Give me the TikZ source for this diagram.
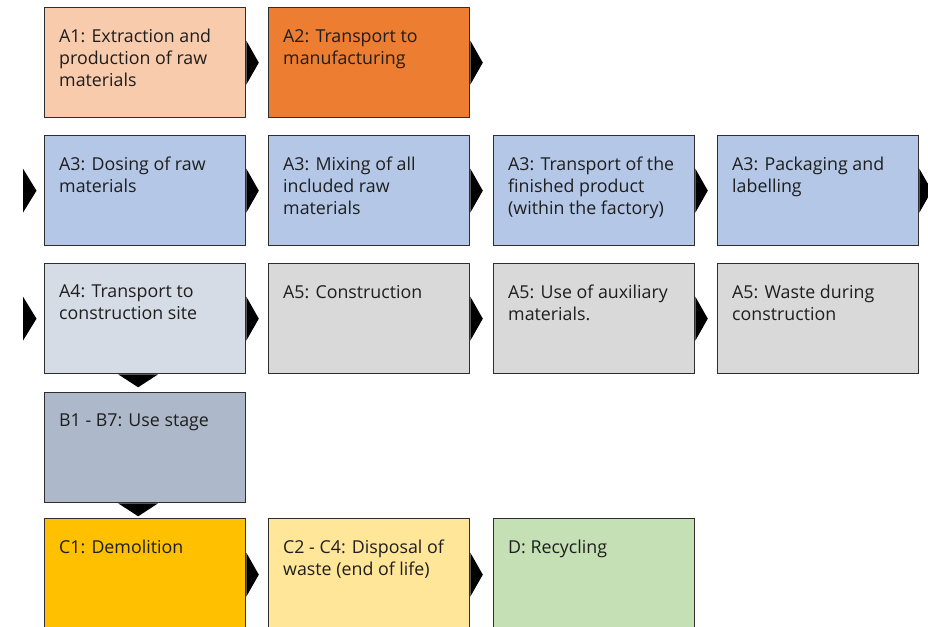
\documentclass[tikz,border=0pt]{standalone}
\usepackage{fontspec}
\setmainfont{Open Sans}
\definecolor{cA1}{HTML}{F8CBAD}
\definecolor{cA2}{HTML}{ED7D31}
\definecolor{cA3}{HTML}{B4C7E7}
\definecolor{cA4}{HTML}{D6DCE5}
\definecolor{cA5}{HTML}{D9D9D9}
\definecolor{cB}{HTML}{ADB9CA}
\definecolor{cC1}{HTML}{FFC000}
\definecolor{cC2}{HTML}{FFE699}
\definecolor{cD}{HTML}{C5E0B4}
\definecolor{edge}{HTML}{2E2E2E}
\definecolor{txt}{HTML}{1E1E1E}
\tikzset{
  stage/.style={draw=edge, line width=1.3pt, anchor=north west, inner sep=0pt,
    minimum width=201pt, minimum height=110pt},
  tall/.style={minimum height=112pt},
  lbl/.style={anchor=north west, align=left, inner sep=0pt, text=txt,
    font=\fontsize{17.8}{22}\selectfont, xshift=15pt, yshift=-22pt},
  tip/.style={fill=black}
}
\newcommand{\rtip}[1]{\fill[tip] ([yshift=22pt]#1) -- ([xshift=12.5pt]#1) -- ([yshift=-22pt]#1) -- cycle;}
\begin{document}
\begin{tikzpicture}[x=1pt,y=1pt]
\useasboundingbox (0,0) rectangle (928,-626);
% row 1
\node[stage, fill=cA1, label={[lbl]north west:{A1: Extraction and\\production of raw\\materials}}] (a1) at (44,-7) {};
\node[stage, fill=cA2, label={[lbl]north west:{A2: Transport to\\manufacturing}}] (a2) at (268,-7) {};
% row 2
\node[stage, fill=cA3, label={[lbl]north west:{A3: Dosing of raw\\materials}}] (a3a) at (44,-135) {};
\node[stage, fill=cA3, label={[lbl]north west:{A3: Mixing of all\\included raw\\materials}}] (a3b) at (268,-135) {};
\node[stage, fill=cA3, label={[lbl]north west:{A3: Transport of the\\finished product\\(within the factory)}}] (a3c) at (493,-135) {};
\node[stage, fill=cA3, label={[lbl]north west:{A3: Packaging and\\labelling}}] (a3d) at (717,-135) {};
% row 3
\node[stage, fill=cA4, label={[lbl]north west:{A4: Transport to\\construction site}}] (a4) at (44,-263) {};
\node[stage, fill=cA5, label={[lbl]north west:{A5: Construction}}] (a5a) at (268,-263) {};
\node[stage, fill=cA5, label={[lbl]north west:{A5: Use of auxiliary\\materials.}}] (a5b) at (493,-263) {};
\node[stage, fill=cA5, label={[lbl]north west:{A5: Waste during\\construction}}] (a5c) at (717,-263) {};
% row 4
\node[stage, fill=cB, label={[lbl]north west:{B1 - B7: Use stage}}] (b) at (44,-392) {};
% row 5
\node[stage, tall, fill=cC1, label={[lbl]north west:{C1: Demolition}}] (c1) at (44,-518) {};
\node[stage, tall, fill=cC2, label={[lbl]north west:{C2 - C4: Disposal of\\waste (end of life)}}] (c2) at (268,-518) {};
\node[stage, tall, fill=cD, label={[lbl]north west:{D: Recycling}}] (d) at (493,-518) {};
% flow pointers
\rtip{a1.east}
\rtip{a2.east}
\fill[tip] ([xshift=-21pt,yshift=22pt]a3a.west) -- ([xshift=-7.5pt]a3a.west) -- ([xshift=-21pt,yshift=-22pt]a3a.west) -- cycle;
\rtip{a3a.east}
\rtip{a3b.east}
\rtip{a3c.east}
\rtip{a3d.east}
\fill[tip] ([xshift=-21pt,yshift=22pt]a4.west) -- ([xshift=-7.5pt]a4.west) -- ([xshift=-21pt,yshift=-22pt]a4.west) -- cycle;
\rtip{a4.east}
\rtip{a5a.east}
\rtip{a5b.east}
\fill[tip] ([xshift=-27pt]a4.south) -- ([xshift=-7pt,yshift=-13pt]a4.south) -- ([xshift=13pt]a4.south) -- cycle;
\fill[tip] ([xshift=-27pt]b.south) -- ([xshift=-7pt,yshift=-13pt]b.south) -- ([xshift=13pt]b.south) -- cycle;
\rtip{c1.east}
\rtip{c2.east}
\end{tikzpicture}
\end{document}
